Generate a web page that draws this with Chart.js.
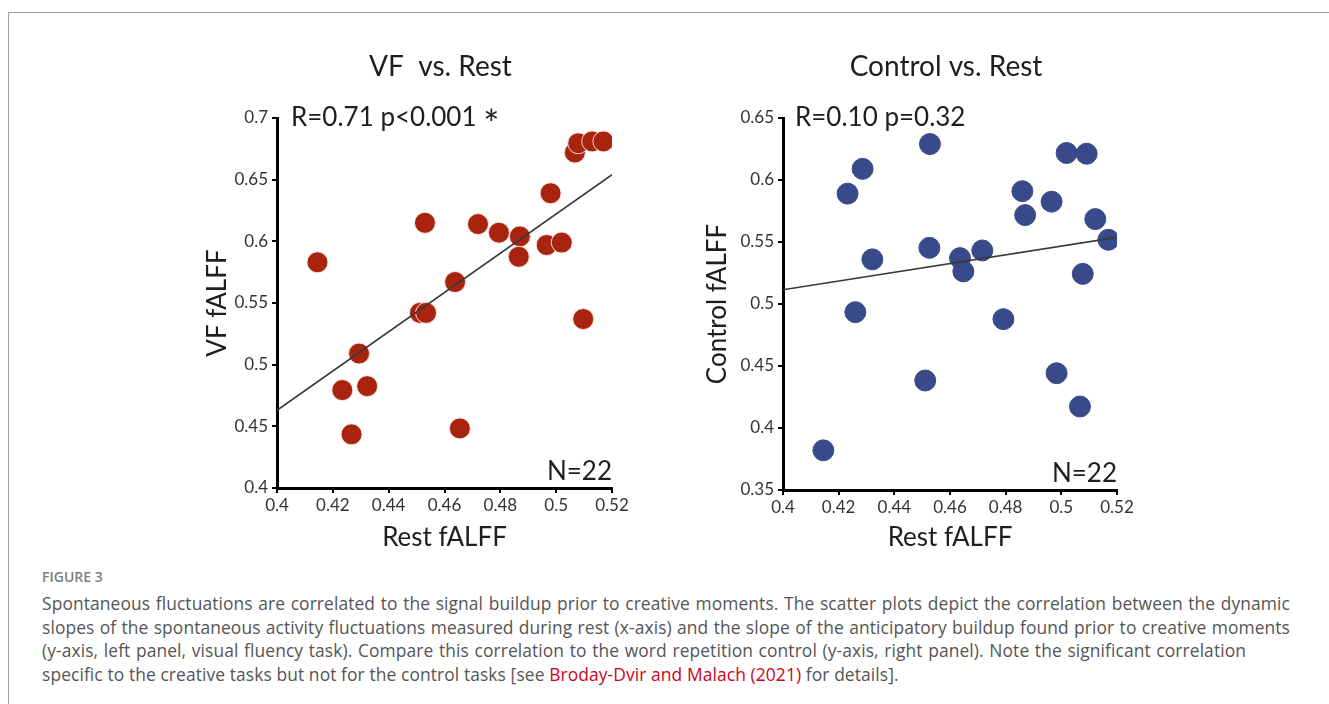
<!DOCTYPE html>
<html>
<head>
<meta charset="utf-8">
<script src="https://cdn.jsdelivr.net/npm/chart.js@4.4.0/dist/chart.umd.min.js"></script>
<style>
  html, body { margin: 0; padding: 0; background: #fff; width: 1329px; height: 704px; overflow: hidden; }
  .frame { position: absolute; left: 8px; top: 12px; right: -2px; bottom: -2px;
           border-top: 1px solid #a0a0a0; border-left: 1px solid #a0a0a0; }
  canvas { position: absolute; top: 30px; }
  #left-chart  { left: 180px; }
  #right-chart { left: 686px; }
  #fig { position: absolute; left: 42px; top: 567px; font: 600 14px "Open Sans", sans-serif; color: #7d7d7d; }
  #cap { position: absolute; left: 42px; top: 592px; font-family: "Open Sans", sans-serif; font-size: 17.4px;
         letter-spacing: 0.1px; color: #555; line-height: 23.6px; }
  #cap div { white-space: nowrap; text-align: justify; text-align-last: justify; }
  #cap div.last { text-align: left; text-align-last: left; }
  #cap a { color: #d0021b; text-decoration: none; }
</style>
</head>
<body>
<div class="frame"></div>
<canvas id="left-chart" width="460" height="535"></canvas>
<canvas id="right-chart" width="460" height="535"></canvas>

<div id="fig">FIGURE 3</div>
<div id="cap">
  <div style="width:1248px">Spontaneous fluctuations are correlated to the signal buildup prior to creative moments. The scatter plots depict the correlation between the dynamic</div>
  <div style="width:1248px">slopes of the spontaneous activity fluctuations measured during rest (x-axis) and the slope of the anticipatory buildup found prior to creative moments</div>
  <div style="width:1204px">(y-axis, left panel, visual fluency task). Compare this correlation to the word repetition control (y-axis, right panel). Note the significant correlation</div>
  <div class="last">specific to the creative tasks but not for the control tasks [see <a>Broday-Dvir and Malach (2021)</a> for details].</div>
</div>

<script>
// dane (Rest fALFF na osi x)
const vfRest = [0.4145, 0.453, 0.472, 0.4795, 0.487, 0.4866, 0.4966, 0.502, 0.498, 0.5067, 0.5079,
                0.5129, 0.5169, 0.5097, 0.4638, 0.4512, 0.4534, 0.4294, 0.4234, 0.4323, 0.4267, 0.4655]
const vfValues = [0.583, 0.615, 0.614, 0.607, 0.604, 0.5875, 0.597, 0.599, 0.639, 0.672, 0.6795,
                  0.681, 0.681, 0.537, 0.567, 0.542, 0.542, 0.509, 0.4794, 0.4826, 0.4435, 0.4483]
const vfFit = [0.463, 0.654]   // linia regresji na x = 0.4 i 0.52

const ctrlRest = [0.4145, 0.4232, 0.4286, 0.4321, 0.426, 0.4528, 0.4526, 0.4511, 0.4636, 0.4648, 0.4716,
                  0.4792, 0.486, 0.487, 0.4965, 0.5019, 0.5091, 0.5122, 0.5169, 0.5077, 0.4983, 0.5067]
const ctrlValues = [0.382, 0.589, 0.609, 0.536, 0.4934, 0.629, 0.5453, 0.4383, 0.537, 0.5263, 0.5432,
                    0.4878, 0.591, 0.5717, 0.5825, 0.6218, 0.6212, 0.5685, 0.5518, 0.5243, 0.4442, 0.4173]
const ctrlFit = [0.5115, 0.5537]

const fitX = [0.4, 0.52]
const xTicks = [0.4, 0.42, 0.44, 0.46, 0.48, 0.5, 0.52]
const vfTicks = [0.4, 0.45, 0.5, 0.55, 0.6, 0.65, 0.7]
const ctrlTicks = [0.35, 0.4, 0.45, 0.5, 0.55, 0.6, 0.65]

const FONT = 'Lato, "Open Sans", sans-serif'
const INK = '#1e1e1e'

const toPoints = (xs, ys) => xs.map((x, i) => ({ x, y: ys[i] }))

// tytuł, statystyki i N rysowane nad wykresem
const labelsPlugin = {
  id: 'panelText',
  afterDraw (chart) {
    const o = chart.options.plugins.panelText
    const { ctx, chartArea: a } = chart
    ctx.save()
    ctx.fillStyle = INK
    ctx.textBaseline = 'middle'
    ctx.font = `28px ${FONT}`
    ctx.textAlign = 'center'
    ctx.fillText(o.title, (a.left + a.right) / 2 - 4, 37)
    ctx.font = `26px ${FONT}`
    ctx.textAlign = 'left'
    const sx = a.left + o.statsDx
    ctx.fillText(o.stats, sx, a.top)
    if (o.star) {
      const w = ctx.measureText(o.stats + ' ').width
      ctx.font = `38px ${FONT}`
      ctx.fillText('*', sx + w, a.top + 8)
      ctx.font = `26px ${FONT}`
    }
    ctx.textAlign = 'right'
    ctx.fillText('N=22', a.right, a.bottom - 16)
    ctx.restore()
  }
}

function makeChart (el, cfg) {
  return new Chart(document.getElementById(el), {
    type: 'scatter',
    data: {
      datasets: [
        {
          type: 'line',
          data: toPoints(fitX, cfg.fit),
          borderColor: '#3a3a3a',
          borderWidth: 1.6,
          pointRadius: 0,
          order: 0
        },
        {
          data: toPoints(cfg.xs, cfg.ys),
          backgroundColor: cfg.color,
          borderColor: cfg.border,
          borderWidth: 1,
          pointRadius: 10.5,
          pointHoverRadius: 10.5,
          order: 1
        }
      ]
    },
    options: {
      responsive: false,
      animation: false,
      events: [],
      layout: { padding: { top: 88, right: cfg.padRight, left: 0, bottom: 0 } },
      plugins: {
        legend: { display: false },
        tooltip: { enabled: false },
        panelText: { title: cfg.title, stats: cfg.stats, star: cfg.star, statsDx: cfg.statsDx }
      },
      scales: {
        x: {
          type: 'linear',
          min: 0.4, max: 0.52,
          afterBuildTicks: s => { s.ticks = xTicks.map(v => ({ value: v })) },
          afterFit: s => { s.height = cfg.xHeight },
          ticks: { font: { family: FONT, size: 17 }, color: '#333', padding: 2, callback: v => String(v) },
          grid: { drawOnChartArea: false, drawTicks: true, tickLength: 5, color: '#000', lineWidth: 2 },
          border: { color: '#000', width: 3 },
          title: { display: true, text: 'Rest fALFF', color: INK, font: { family: FONT, size: 26 }, padding: { top: 0, bottom: 12 } }
        },
        y: {
          type: 'linear',
          min: cfg.yTicks[0], max: cfg.yTicks[cfg.yTicks.length - 1],
          afterBuildTicks: s => { s.ticks = cfg.yTicks.map(v => ({ value: v })) },
          afterFit: s => { s.width = 97 },
          ticks: { font: { family: FONT, size: 17 }, color: '#333', padding: 4, callback: v => String(v) },
          grid: { drawOnChartArea: false, drawTicks: true, tickLength: 5, color: '#000', lineWidth: 2 },
          border: { color: '#000', width: 3 },
          title: { display: true, text: cfg.yTitle, color: INK, font: { family: FONT, size: 26 }, padding: { top: cfg.yTitlePad, bottom: 0 } }
        }
      }
    },
    plugins: [labelsPlugin]
  })
}

function init () {
  makeChart('left-chart', {
    xs: vfRest, ys: vfValues, fit: vfFit, yTicks: vfTicks,
    color: '#a8240f', border: 'rgba(255,235,230,0.9)',
    title: 'VF  vs. Rest', stats: 'R=0.71 p<0.001', star: true, statsDx: 14,
    yTitle: 'VF fALFF', yTitlePad: 22, xHeight: 77, padRight: 28
  })
  makeChart('right-chart', {
    xs: ctrlRest, ys: ctrlValues, fit: ctrlFit, yTicks: ctrlTicks,
    color: '#394a8b', border: '#394a8b',
    title: 'Control vs. Rest', stats: 'R=0.10 p=0.32', star: false, statsDx: 12,
    yTitle: 'Control fALFF', yTitlePad: 16, xHeight: 75, padRight: 29
  })
}

document.readyState === 'loading'
  ? document.addEventListener('DOMContentLoaded', init, { once: true })
  : init()
</script>
</body>
</html>
